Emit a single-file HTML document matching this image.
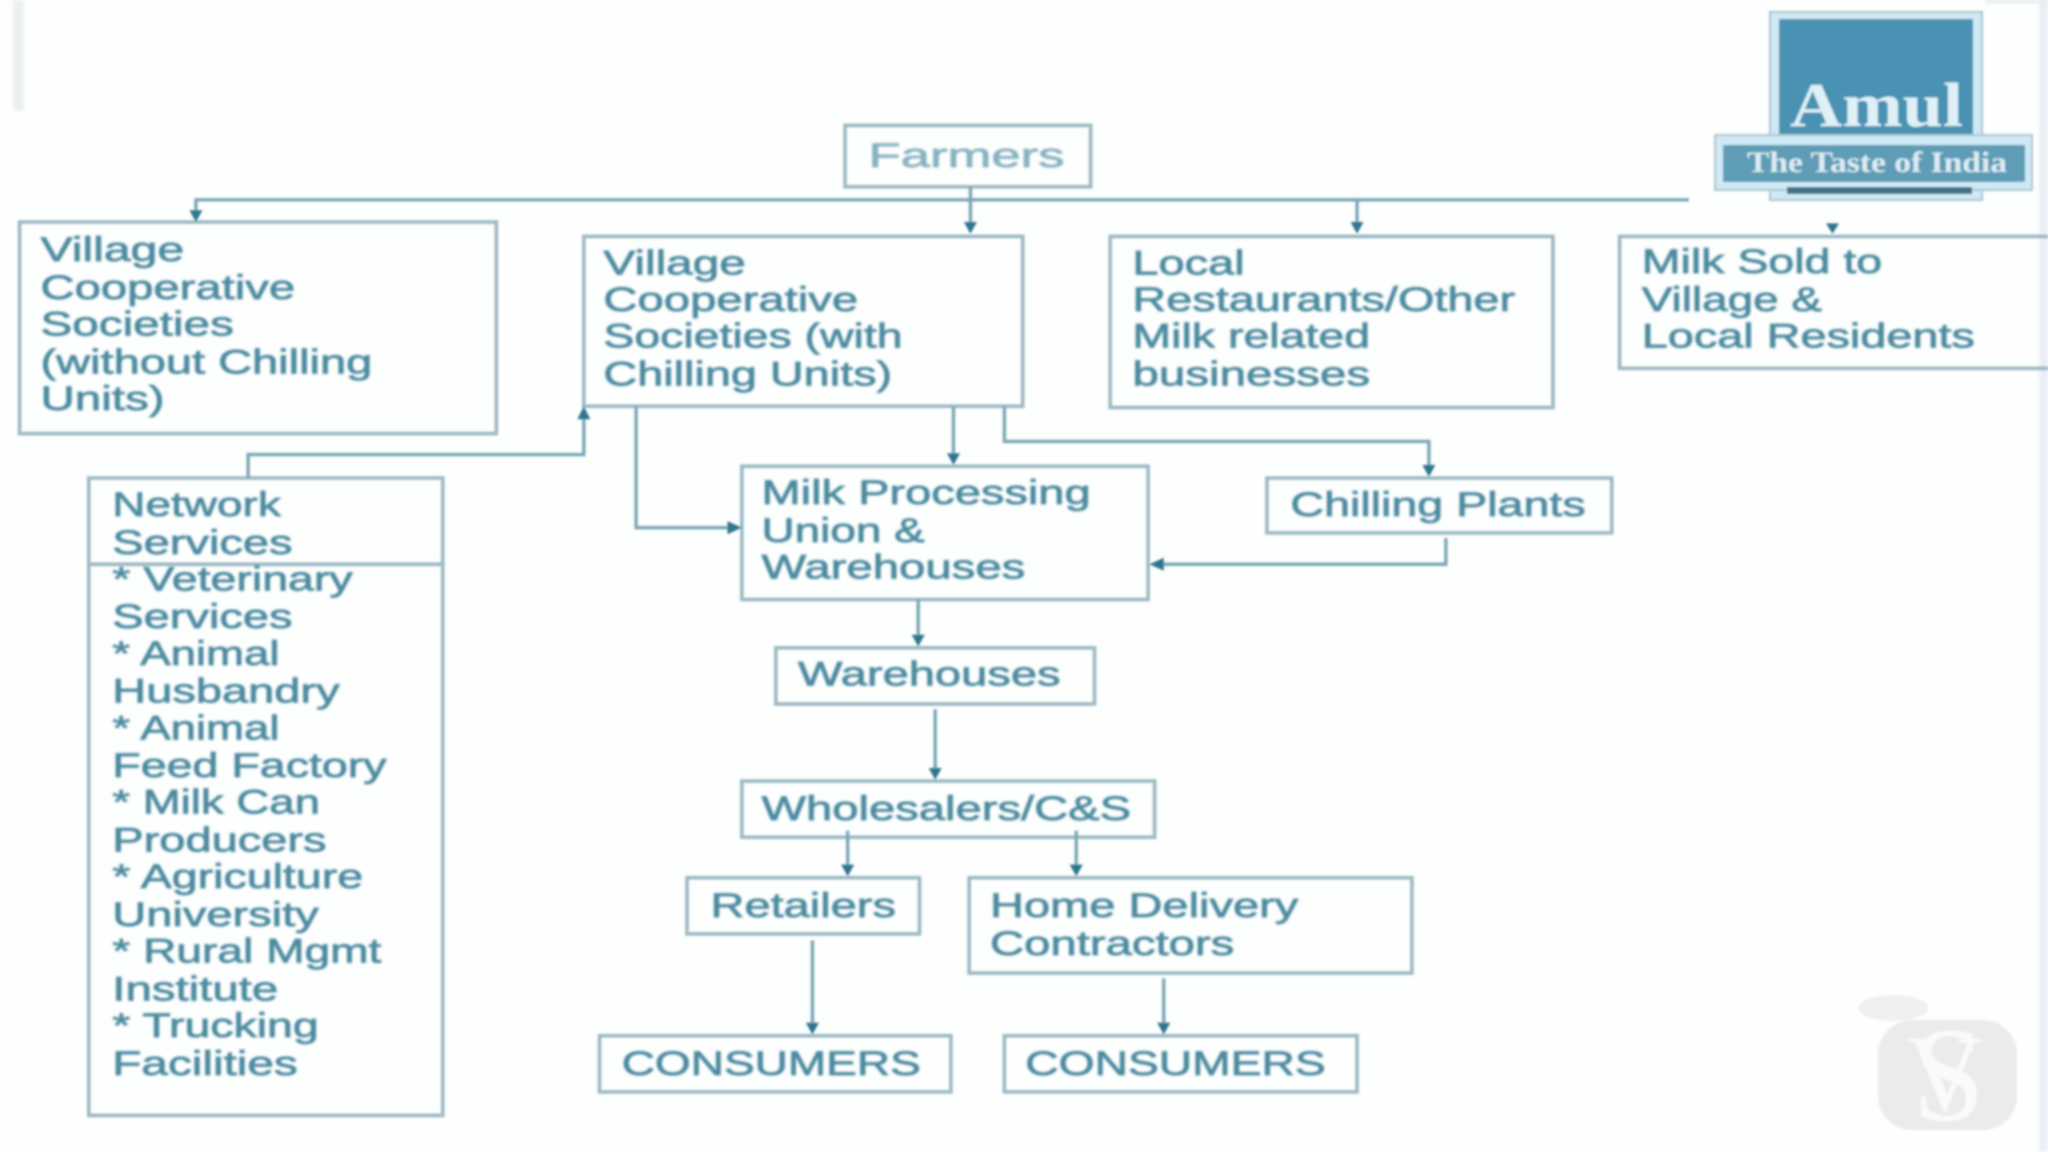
<!DOCTYPE html>
<html><head><meta charset="utf-8"><title>Amul supply chain</title>
<style>
html,body{margin:0;padding:0;background:#fdfefe;width:2048px;height:1152px;overflow:hidden}
svg{display:block}
.t text{font-family:"Liberation Sans",sans-serif;font-size:26px;fill:#4b8a9f;stroke:#4b8a9f;stroke-width:.55px}
.b rect,.b path{fill:none;stroke:#9dbac4;stroke-width:2.8}
.c path{fill:none;stroke:#7ba7b5;stroke-width:2.6}
.a path{fill:#2f7690}
</style></head><body>
<svg width="2048" height="1152" viewBox="0 0 1568 882" xmlns="http://www.w3.org/2000/svg">
<defs>
<filter id="f" x="-5%" y="-5%" width="110%" height="110%"><feGaussianBlur stdDeviation=".8"/></filter>
<filter id="h" x="-5%" y="-5%" width="110%" height="110%"><feGaussianBlur stdDeviation="1.05"/></filter>
<filter id="g" x="-5%" y="-5%" width="110%" height="110%"><feGaussianBlur stdDeviation="1.3"/></filter>
</defs>
<rect width="1568" height="882" fill="#fdfefe"/>
<g filter="url(#g)">
<rect x="10" y="0" width="8" height="85" fill="#edf0f2"/>
<rect x="1561" y="0" width="7" height="882" fill="#e9f0f5"/>
<rect x="1520" y="0" width="48" height="2" fill="#dfe6ea"/>
</g>
<g filter="url(#f)">
<g class="b">
<rect x="647" y="96" width="188" height="47"/>
<rect x="15" y="170" width="365" height="162"/>
<rect x="447" y="181" width="336" height="130"/>
<rect x="850" y="181" width="339" height="131"/>
<path d="M1568 181H1240V282H1568"/>
<rect x="68" y="366" width="271" height="488"/>
<path d="M68 432H339"/>
<rect x="568" y="357" width="311" height="102"/>
<rect x="970" y="366" width="264" height="42"/>
<rect x="594" y="496" width="244" height="43"/>
<rect x="568" y="598" width="316" height="43"/>
<rect x="526" y="672" width="178" height="43"/>
<rect x="742" y="672" width="339" height="73"/>
<rect x="459" y="793" width="269" height="43"/>
<rect x="769" y="793" width="270" height="43"/>
</g>
<g class="c">
<path d="M150 165V153H1293"/>
<path d="M743 143V170"/>
<path d="M1039 153V170"/>
<path d="M190 366V348H447V320"/>
<path d="M487 311V404H558"/>
<path d="M730 311V347"/>
<path d="M769 311V338H1094V356"/>
<path d="M1107 412V432H890"/>
<path d="M703 459V486"/>
<path d="M716 543V588"/>
<path d="M649 636V662"/>
<path d="M824 636V662"/>
<path d="M622 720V783"/>
<path d="M891 749V783"/>
</g>
<g class="a">
<path d="M145 161H155L150 170Z"/>
<path d="M738 170H748L743 179Z"/>
<path d="M1034 170H1044L1039 179Z"/>
<path d="M1398 171H1408L1403 179Z"/>
<path d="M442 321H452L447 311Z"/>
<path d="M557 399V409L568 404Z"/>
<path d="M725 347H735L730 356Z"/>
<path d="M1089 356H1099L1094 365Z"/>
<path d="M891 427V437L880 432Z"/>
<path d="M698 486H708L703 495Z"/>
<path d="M711 588H721L716 597Z"/>
<path d="M644 662H654L649 671Z"/>
<path d="M819 662H829L824 671Z"/>
<path d="M617 783H627L622 792Z"/>
<path d="M886 783H896L891 792Z"/>
</g>
</g>
<g class="t" filter="url(#h)">
<text x="665" y="128" textLength="150" lengthAdjust="spacingAndGlyphs" style="fill:#86b2c0;stroke:#86b2c0">Farmers</text>
<text x="31" y="200" textLength="110" lengthAdjust="spacingAndGlyphs">Village</text>
<text x="31" y="229" textLength="195" lengthAdjust="spacingAndGlyphs">Cooperative</text>
<text x="31" y="257" textLength="148" lengthAdjust="spacingAndGlyphs">Societies</text>
<text x="31" y="286" textLength="254" lengthAdjust="spacingAndGlyphs">(without Chilling</text>
<text x="31" y="314" textLength="95" lengthAdjust="spacingAndGlyphs">Units)</text>
<text x="462" y="210" textLength="109" lengthAdjust="spacingAndGlyphs">Village</text>
<text x="462" y="238" textLength="195" lengthAdjust="spacingAndGlyphs">Cooperative</text>
<text x="462" y="266" textLength="229" lengthAdjust="spacingAndGlyphs">Societies (with</text>
<text x="462" y="295" textLength="221" lengthAdjust="spacingAndGlyphs">Chilling Units)</text>
<text x="867" y="210" textLength="86" lengthAdjust="spacingAndGlyphs">Local</text>
<text x="867" y="238" textLength="293" lengthAdjust="spacingAndGlyphs">Restaurants/Other</text>
<text x="867" y="266" textLength="182" lengthAdjust="spacingAndGlyphs">Milk related</text>
<text x="867" y="295" textLength="182" lengthAdjust="spacingAndGlyphs">businesses</text>
<text x="1257" y="209" textLength="184" lengthAdjust="spacingAndGlyphs">Milk Sold to</text>
<text x="1257" y="238" textLength="138" lengthAdjust="spacingAndGlyphs">Village &amp;</text>
<text x="1257" y="266" textLength="255" lengthAdjust="spacingAndGlyphs">Local Residents</text>
<text x="86" y="395" textLength="129" lengthAdjust="spacingAndGlyphs">Network</text>
<text x="86" y="424" textLength="138" lengthAdjust="spacingAndGlyphs">Services</text>
<text x="86" y="452" textLength="184" lengthAdjust="spacingAndGlyphs">* Veterinary</text>
<text x="86" y="481" textLength="138" lengthAdjust="spacingAndGlyphs">Services</text>
<text x="86" y="509" textLength="128" lengthAdjust="spacingAndGlyphs">* Animal</text>
<text x="86" y="538" textLength="174" lengthAdjust="spacingAndGlyphs">Husbandry</text>
<text x="86" y="566" textLength="128" lengthAdjust="spacingAndGlyphs">* Animal</text>
<text x="86" y="595" textLength="210" lengthAdjust="spacingAndGlyphs">Feed Factory</text>
<text x="86" y="623" textLength="159" lengthAdjust="spacingAndGlyphs">* Milk Can</text>
<text x="86" y="652" textLength="164" lengthAdjust="spacingAndGlyphs">Producers</text>
<text x="86" y="680" textLength="192" lengthAdjust="spacingAndGlyphs">* Agriculture</text>
<text x="86" y="709" textLength="158" lengthAdjust="spacingAndGlyphs">University</text>
<text x="86" y="737" textLength="206" lengthAdjust="spacingAndGlyphs">* Rural Mgmt</text>
<text x="86" y="766" textLength="127" lengthAdjust="spacingAndGlyphs">Institute</text>
<text x="86" y="794" textLength="158" lengthAdjust="spacingAndGlyphs">* Trucking</text>
<text x="86" y="823" textLength="142" lengthAdjust="spacingAndGlyphs">Facilities</text>
<text x="583" y="386" textLength="252" lengthAdjust="spacingAndGlyphs">Milk Processing</text>
<text x="583" y="415" textLength="125" lengthAdjust="spacingAndGlyphs">Union &amp;</text>
<text x="583" y="443" textLength="202" lengthAdjust="spacingAndGlyphs">Warehouses</text>
<text x="988" y="395" textLength="226" lengthAdjust="spacingAndGlyphs">Chilling Plants</text>
<text x="611" y="525" textLength="201" lengthAdjust="spacingAndGlyphs">Warehouses</text>
<text x="583" y="628" textLength="283" lengthAdjust="spacingAndGlyphs">Wholesalers/C&amp;S</text>
<text x="544" y="702" textLength="142" lengthAdjust="spacingAndGlyphs">Retailers</text>
<text x="758" y="702" textLength="236" lengthAdjust="spacingAndGlyphs">Home Delivery</text>
<text x="758" y="731" textLength="187" lengthAdjust="spacingAndGlyphs">Contractors</text>
<text x="476" y="823" textLength="229" lengthAdjust="spacingAndGlyphs">CONSUMERS</text>
<text x="785" y="823" textLength="230" lengthAdjust="spacingAndGlyphs">CONSUMERS</text>
</g>
<g transform="scale(.76563)" filter="url(#h)">
<rect x="1770" y="12" width="212" height="188" fill="#cfe9f5" stroke="#aec6cf" stroke-width="2"/>
<rect x="1779" y="19" width="194" height="118" fill="#4a92b3"/>
<rect x="1715" y="135" width="317" height="55" fill="#cfe9f5" stroke="#aec6cf" stroke-width="2"/>
<rect x="1723" y="145" width="302" height="37" fill="#5f9cb6"/>
<rect x="1787" y="187" width="185" height="7" fill="#3d7288"/>
<text x="1790" y="126" textLength="173" lengthAdjust="spacingAndGlyphs" style="font-family:'Liberation Serif',serif;font-weight:bold;font-size:62px;fill:#dff0f7">Amul</text>
<text x="1747" y="172" textLength="260" lengthAdjust="spacingAndGlyphs" style="font-family:'Liberation Serif',serif;font-weight:bold;font-size:30px;fill:#dcecf3">The Taste of India</text>
<rect x="1878" y="1020" width="139" height="110" rx="34" fill="#ebebeb"/>
<ellipse cx="1893" cy="1008" rx="35" ry="13" fill="#f0f0f0"/>
<text x="1907" y="1110" textLength="75" lengthAdjust="spacingAndGlyphs" style="font-family:'Liberation Serif',serif;font-size:108px;fill:#fafafa">V</text>
<text x="1912" y="1120" textLength="73" lengthAdjust="spacingAndGlyphs" style="font-family:'Liberation Serif',serif;font-size:135px;fill:#fafafa">S</text>
</g>
</svg>
</body></html>
